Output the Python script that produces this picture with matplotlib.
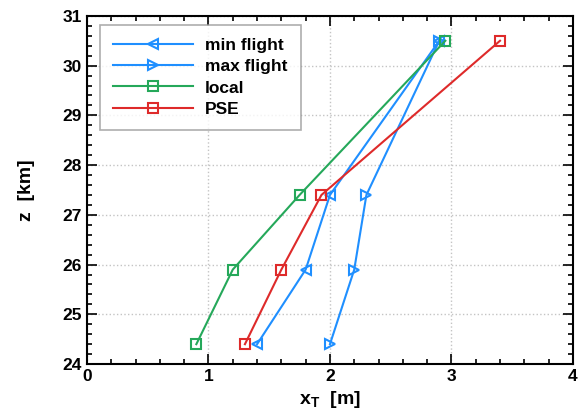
import numpy as np
import matplotlib.pyplot as plt
from matplotlib.ticker import MultipleLocator

plt.rcParams['font.family'] = ['Liberation Sans', 'DejaVu Sans']
plt.rcParams['font.weight'] = 'bold'
plt.rcParams['mathtext.fontset'] = 'custom'
plt.rcParams['mathtext.bf'] = 'Liberation Sans:bold'
plt.rcParams['mathtext.rm'] = 'Liberation Sans:bold'

# heights (km)
z = [24.4, 25.9, 27.4, 30.5]
# x_T values (m)
min_flight = [1.4, 1.8, 2.0, 2.9]
max_flight = [2.0, 2.2, 2.3, 2.9]
local = [0.9, 1.2, 1.75, 2.95]
pse = [1.3, 1.6, 1.93, 3.4]

fig = plt.figure(figsize=(5.84, 4.18), dpi=100)
ax = fig.add_axes([0.149, 0.129, 0.832, 0.833])

blue = '#1f8fff'
green = '#25a85a'
red = '#de2a2a'
kw = dict(lw=1.5, ms=7, mfc='none', mew=1.5)
ax.plot(min_flight, z, '-<', color=blue, label='min flight', **kw)
ax.plot(max_flight, z, '->', color=blue, label='max flight', **kw)
ax.plot(local, z, '-s', color=green, label='local', **kw)
ax.plot(pse, z, '-s', color=red, label='PSE', **kw)

ax.set_xlim(0, 4)
ax.set_ylim(24, 31)
ax.xaxis.set_major_locator(MultipleLocator(1))
ax.xaxis.set_minor_locator(MultipleLocator(0.2))
ax.yaxis.set_major_locator(MultipleLocator(1))
ax.yaxis.set_minor_locator(MultipleLocator(0.2))
ax.tick_params(which='both', direction='in', top=True, right=True, labelsize=12.5, width=1.2)
ax.tick_params(which='major', length=7)
ax.tick_params(which='minor', length=3.5)
ax.grid(True, which='major', linestyle=':', color='#c4c4c4', lw=1)
for s in ax.spines.values():
    s.set_linewidth(1.5)

ax.set_xlabel(r'$\mathbf{x_T}$  [m]', fontsize=14, fontweight='bold', labelpad=4)
ax.set_ylabel('z  [km]', fontsize=14, fontweight='bold', labelpad=20)

leg = ax.legend(loc='upper left', bbox_to_anchor=(0.027, 0.974), fontsize=12.5, fancybox=False,
                edgecolor='#999999', handlelength=4.6, handletextpad=0.7,
                borderpad=0.75, labelspacing=0.35, borderaxespad=0)
leg.get_frame().set_linewidth(1.2)

fig.savefig('out.png', dpi=100)
